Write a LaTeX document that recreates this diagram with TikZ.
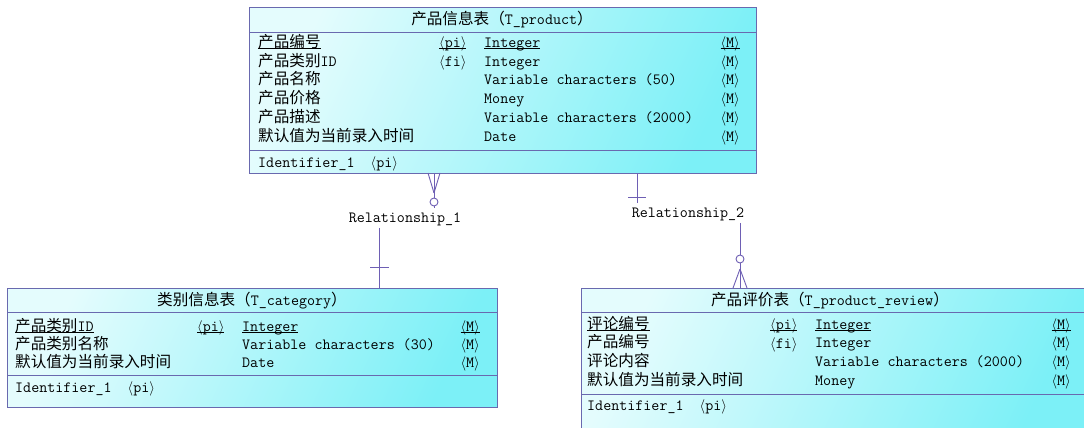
\documentclass[tikz,border=0pt]{standalone}
\usepackage{fontspec}
\newfontfamily\cjk{Noto Sans CJK SC}
\usetikzlibrary{positioning}
\definecolor{pBorder}{RGB}{105,105,175}
\definecolor{pLine}{RGB}{110,95,180}
\definecolor{pLight}{RGB}{228,252,253}
\definecolor{pCyan}{RGB}{124,240,247}
\tikzset{
    tbl/.style={draw=pBorder, line width=0.9pt, left color=pLight, right color=pCyan, shading angle=65, anchor=north west, inner sep=0pt},
    sep/.style={draw=pBorder, line width=0.9pt},
    txt/.style={inner sep=0pt, text height=12pt, text depth=3.5pt, font=\ttfamily\fontsize{15.6}{18}\selectfont},
    rel/.style={draw=pLine, line width=0.9pt},
    ring/.style={circle, draw=pLine, line width=0.9pt, minimum size=8pt, inner sep=0pt, fill=white},
    rlabel/.style={txt, fill=white, inner xsep=1pt, inner ysep=2pt}
}
\newcommand{\akey}[1]{$\langle$#1$\rangle$}
\newcommand{\uln}[1]{\setbox0\hbox{#1}\rlap{\rule[-1.6pt]{\wd0}{0.6pt}}\box0}

\begin{document}
\begin{tikzpicture}[x=1pt,y=-1pt]
\clip (0,0) rectangle (1084,428);
\fill[white] (0,0) rectangle (1084,428);
% T_product
\node[tbl, minimum width=507pt, minimum height=166pt] (prod) at (249,7) {};
\draw[sep] (249,32) -- (756,32);
\draw[sep] (249,150) -- (756,150);
\node[txt] (prodT) at (502,20) {{\cjk 产品信息表（}T\_product{\cjk ）}};
\node[txt,anchor=west] (prodA0) at (258,43) {\uln{\cjk 产品编号}};
\node[txt,anchor=west] (prodK0) at (439,43) {\uln{\akey{pi}}};
\node[txt,anchor=west] (prodD0) at (484,43) {\uln{Integer}};
\node[txt,anchor=east] (prodM0) at (740,43) {\uln{\akey{M}}};
\node[txt,anchor=west] (prodK1) at (439,62) {\akey{fi}};
\foreach \i/\nm/\ty in {1/{{\cjk 产品类别}ID}/Integer, 2/{\cjk 产品名称}/Variable characters (50),
    3/{\cjk 产品价格}/Money, 4/{\cjk 产品描述}/Variable characters (2000), 5/{\cjk 默认值为当前录入时间}/Date} {
  \node[txt,anchor=west] (prodA\i) at (258,{43+18.8*\i}) {\nm};
  \node[txt,anchor=west] (prodD\i) at (484,{43+18.8*\i}) {\ty};
  \node[txt,anchor=east] (prodM\i) at (740,{43+18.8*\i}) {\akey{M}};
}
\node[txt,anchor=west] (prodI) at (258,163) {Identifier\_1\ \ \akey{pi}};
% T_category
\node[tbl, minimum width=490pt, minimum height=119pt] (cat) at (7,288) {};
\draw[sep] (7,312) -- (497,312);
\draw[sep] (7,375) -- (497,375);
\node[txt] (catT) at (252,301) {{\cjk 类别信息表（}T\_category{\cjk ）}};
\node[txt,anchor=west] (catA0) at (15,327) {\uln{{\cjk 产品类别}ID}};
\node[txt,anchor=west] (catK0) at (197,327) {\uln{\akey{pi}}};
\node[txt,anchor=west] (catD0) at (242,327) {\uln{Integer}};
\node[txt,anchor=east] (catM0) at (480,327) {\uln{\akey{M}}};
\foreach \i/\nm/\ty in {1/{\cjk 产品类别名称}/Variable characters (30), 2/{\cjk 默认值为当前录入时间}/Date} {
  \node[txt,anchor=west] (catA\i) at (15,{327+18*\i}) {\nm};
  \node[txt,anchor=west] (catD\i) at (242,{327+18*\i}) {\ty};
  \node[txt,anchor=east] (catM\i) at (480,{327+18*\i}) {\akey{M}};
}
\node[txt,anchor=west] (catI) at (15,388) {Identifier\_1\ \ \akey{pi}};
% T_product_review
\node[tbl, minimum width=507pt, minimum height=152pt] (rev) at (581,288) {};
\draw[sep] (581,312) -- (1088,312);
\draw[sep] (581,394) -- (1088,394);
\node[txt] (revT) at (830,301) {{\cjk 产品评价表（}T\_product\_review{\cjk ）}};
\node[txt,anchor=west] (revA0) at (587,325) {\uln{\cjk 评论编号}};
\node[txt,anchor=west] (revK0) at (770,325) {\uln{\akey{pi}}};
\node[txt,anchor=west] (revD0) at (815,325) {\uln{Integer}};
\node[txt,anchor=east] (revM0) at (1071,325) {\uln{\akey{M}}};
\node[txt,anchor=west] (revK1) at (770,344) {\akey{fi}};
\foreach \i/\nm/\ty in {1/{\cjk 产品编号}/Integer, 2/{\cjk 评论内容}/Variable characters (2000),
    3/{\cjk 默认值为当前录入时间}/Money} {
  \node[txt,anchor=west] (revA\i) at (587,{325+18.7*\i}) {\nm};
  \node[txt,anchor=west] (revD\i) at (815,{325+18.7*\i}) {\ty};
  \node[txt,anchor=east] (revM\i) at (1071,{325+18.7*\i}) {\akey{M}};
}
\node[txt,anchor=west] (revI) at (587,406) {Identifier\_1\ \ \akey{pi}};
% Relationship_1
\node[rlabel] (rel1) at (405,218) {Relationship\_1};
\coordinate (ft1) at (434,193);
\node[ring] (o1) at (434,202) {};
\draw[rel] (ft1) -- (ft1 |- prod.south);
\draw[rel] (ft1) -- ++(-6,-20);
\draw[rel] (ft1) -- ++(6,-20);
\draw[rel] (ft1) -- (o1.north);
\draw[rel] (o1.south) -- (o1.south |- rel1.north);
\coordinate (j1) at (379,288);
\draw[rel] (rel1.south -| j1) -- (j1);
\draw[rel] (370,267) -- (389,267);
% Relationship_2
\node[rlabel] (rel2) at (688,213) {Relationship\_2};
\coordinate (t2) at (637,173);
\draw[rel] (t2) -- (t2 |- rel2.north);
\draw[rel] (628,197) -- (646,197);
\node[ring] (o2) at (740,259) {};
\coordinate (ft2) at (740,269);
\draw[rel] (rel2.south -| o2) -- (o2.north);
\draw[rel] (o2.south) -- (ft2);
\draw[rel] (ft2) -- (ft2 |- rev.north);
\draw[rel] (ft2) -- ++(-7,19);
\draw[rel] (ft2) -- ++(7,19);
\end{tikzpicture}
\end{document}
